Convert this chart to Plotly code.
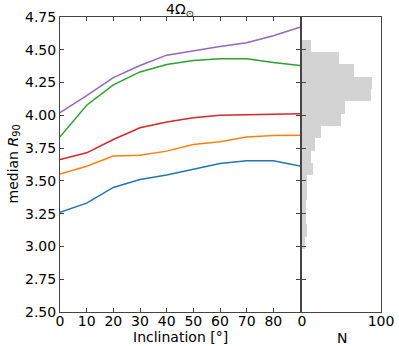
import plotly.graph_objects as go
import numpy as np

# inclination grid (deg)
incl = [0, 10, 20, 30, 40, 50, 60, 70, 80, 90]

# median R90 curves
r90_blue = [3.26, 3.33, 3.45, 3.51, 3.545, 3.587, 3.633, 3.653, 3.653, 3.614]
r90_orange = [3.553, 3.612, 3.689, 3.696, 3.727, 3.778, 3.798, 3.834, 3.847, 3.849]
r90_red = [3.663, 3.714, 3.816, 3.905, 3.949, 3.982, 4.0, 4.005, 4.008, 4.012]
r90_green = [3.836, 4.077, 4.232, 4.331, 4.387, 4.418, 4.431, 4.431, 4.403, 4.38]
r90_purple = [4.02, 4.15, 4.288, 4.38, 4.459, 4.494, 4.525, 4.553, 4.607, 4.673]

# histogram of R90 (low -> high)
hist_start = 2.98
hist_binw = 0.0939
hist_counts = [4, 6, 5, 5, 6, 6, 14, 12, 17, 24, 49, 55, 87, 89, 66, 47, 12]

ytick_vals = [2.5, 2.75, 3.0, 3.25, 3.5, 3.75, 4.0, 4.25, 4.5, 4.75]
ytick_text = ["2.50", "2.75", "3.00", "3.25", "3.50", "3.75", "4.00", "4.25", "4.50", "4.75"]

series = [
    (r90_blue, "#1f77b4"),
    (r90_orange, "#ff7f0e"),
    (r90_green, "#2ca02c"),
    (r90_red, "#d62728"),
    (r90_purple, "#9467bd"),
]

fig = go.Figure()

for vals, col in series:
    fig.add_trace(go.Scatter(x=incl, y=vals, mode="lines",
                             line=dict(color=col, width=1.5),
                             xaxis="x", yaxis="y", showlegend=False))

centers = hist_start + hist_binw * (np.arange(len(hist_counts)) + 0.5)
fig.add_trace(go.Bar(x=hist_counts, y=centers, orientation="h",
                     width=hist_binw, marker=dict(color="#d3d3d3", line_width=0),
                     xaxis="x2", yaxis="y2", showlegend=False))

font = dict(family="DejaVu Sans", size=14, color="black")
axcol = "#444"

W, H = 399, 346
ml, mr, mt, mb = 60, 18, 17, 34
pw = W - ml - mr
ph = H - mt - mb
x1_end = (300 - ml) / pw
x2_start = (302 - ml) / pw

common = dict(ticks="inside", ticklen=4, tickcolor=axcol,
              showline=True, linecolor=axcol, linewidth=1,
              showgrid=False, zeroline=False, automargin=False)

fig.update_layout(
    width=W, height=H,
    margin=dict(l=ml, r=mr, t=mt, b=mb),
    plot_bgcolor="white", paper_bgcolor="white",
    font=font,
    bargap=0,
    xaxis=dict(domain=[0, x1_end], range=[0, 90],
               tickvals=[0, 10, 20, 30, 40, 50, 60, 70, 80],
               ticklabelstandoff=-4, mirror="ticks", **common),
    yaxis=dict(range=[2.5, 4.75], tickvals=ytick_vals, ticktext=ytick_text,
               mirror="ticks", **common),
    xaxis2=dict(domain=[x2_start, 1], range=[0, 100],
                tickvals=[0, 100], anchor="y2", ticklabelstandoff=-4,
                mirror=True, **common),
    yaxis2=dict(range=[2.5, 4.75], tickvals=ytick_vals, anchor="x2",
                showticklabels=False, mirror=True, **common),
    annotations=[
        dict(text="4Ω<sub>⊙</sub>", x=0.5 * x1_end, y=(mt + ph - 10) / ph,
             xref="paper", yref="paper", xanchor="center", yanchor="middle",
             showarrow=False, font=font),
        dict(text="Inclination [°]", x=0.5 * x1_end, y=-(337 - mt - ph) / ph,
             xref="paper", yref="paper", xanchor="center", yanchor="middle",
             showarrow=False, font=font),
        dict(text="N", x=0.5 * (x2_start + 1), y=-(338 - mt - ph) / ph,
             xref="paper", yref="paper", xanchor="center", yanchor="middle",
             showarrow=False, font=font),
        dict(text="median <i>R</i><sub>90</sub>", x=-(ml - 13) / pw, y=0.5,
             xref="paper", yref="paper", xanchor="center", yanchor="middle",
             textangle=-90, showarrow=False, font=font),
    ],
)

fig.write_html("out.html", config={"displayModeBar": False},
               post_script="document.body.style.margin='0';")
